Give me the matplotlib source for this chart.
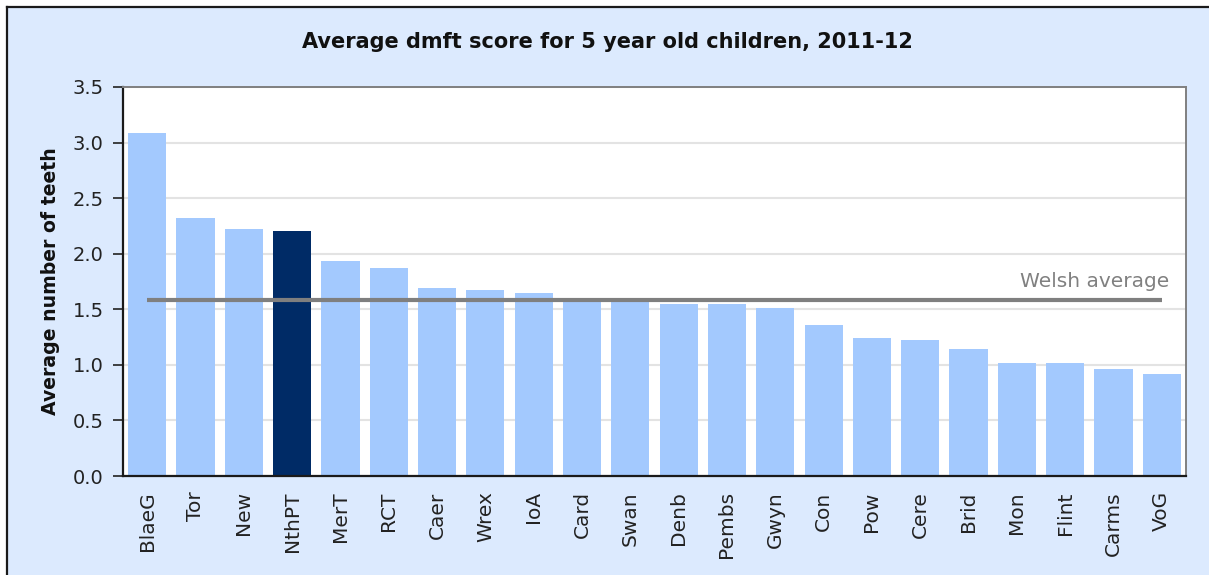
import matplotlib
matplotlib.use("Agg")
import matplotlib.pyplot as plt
from matplotlib.patches import Rectangle
from matplotlib.lines import Line2D

categories = ["BlaeG", "Tor", "New", "NthPT", "MerT", "RCT", "Caer", "Wrex", "IoA",
              "Card", "Swan", "Denb", "Pembs", "Gwyn", "Con", "Pow", "Cere", "Brid",
              "Mon", "Flint", "Carms", "VoG"]
values = [3.09, 2.32, 2.22, 2.20, 1.93, 1.875, 1.69, 1.67, 1.65,
          1.59, 1.58, 1.55, 1.55, 1.51, 1.36, 1.24, 1.22, 1.14,
          1.015, 1.015, 0.965, 0.915]
highlight = "NthPT"
welsh_average = 1.58
title = "Average dmft score for 5 year old children, 2011-12"
ylabel = "Average number of teeth"
yticks = [0.0, 0.5, 1.0, 1.5, 2.0, 2.5, 3.0, 3.5]

W, H = 1209, 575
fig = plt.figure(figsize=(W / 100, H / 100), dpi=100, facecolor="white")

bg = "#DCEAFE"
fig.patches.append(Rectangle((7 / W, 0), 1, 1 - 7 / H, transform=fig.transFigure,
                             facecolor=bg, edgecolor="none", zorder=-10))
fig.lines.append(Line2D([7 / W, 7 / W], [0, 1 - 7 / H], transform=fig.transFigure,
                        color="#1a1a1a", lw=1.6))
fig.lines.append(Line2D([7 / W, 1], [1 - 7 / H, 1 - 7 / H], transform=fig.transFigure,
                        color="#1a1a1a", lw=1.6))

ax = fig.add_axes([123 / W, 1 - 476 / H, (1186 - 123) / W, (476 - 87) / H])
ax.set_facecolor("white")

n = len(categories)
x = list(range(n))
colors = ["#002B66" if c == highlight else "#A3C9FE" for c in categories]
ax.bar(x, values, width=0.79, color=colors, edgecolor="none", zorder=2)

ax.plot([0, n - 1], [welsh_average, welsh_average], color="#7F7F7F", lw=3, zorder=3,
        solid_capstyle="butt")
ax.text(n - 1 + 0.15, welsh_average + 0.17, "Welsh average", ha="right", va="center",
        fontsize=14.5, color="#808080")

ax.set_xlim(-0.5, n - 0.5)
ax.set_ylim(0, 3.5)
ax.set_yticks(yticks)
ax.set_yticklabels([f"{v:.1f}" for v in yticks], fontsize=14, color="#222222")
ax.set_xticks(x)
ax.set_xticklabels(categories, rotation=90, fontsize=14.5, color="#222222")
ax.tick_params(axis="x", length=0, pad=11)
ax.tick_params(axis="y", length=7, width=1.2, color="#222222", pad=7)

ax.yaxis.grid(True, color="#E3E3E3", lw=1.5, zorder=0)
ax.set_axisbelow(True)

for s in ["left", "bottom"]:
    ax.spines[s].set_color("#1a1a1a")
    ax.spines[s].set_linewidth(1.6)
for s in ["top", "right"]:
    ax.spines[s].set_color("#808080")
    ax.spines[s].set_linewidth(1.4)

fig.text(607 / W, 1 - 42 / H, title, ha="center", va="center", fontsize=15,
         fontweight="bold", color="#111111")
fig.text(51 / W, 1 - 281 / H, ylabel, ha="center", va="center", rotation=90,
         fontsize=13.6, fontweight="bold", color="#111111")

fig.savefig("out.png", dpi=100, facecolor="white")
